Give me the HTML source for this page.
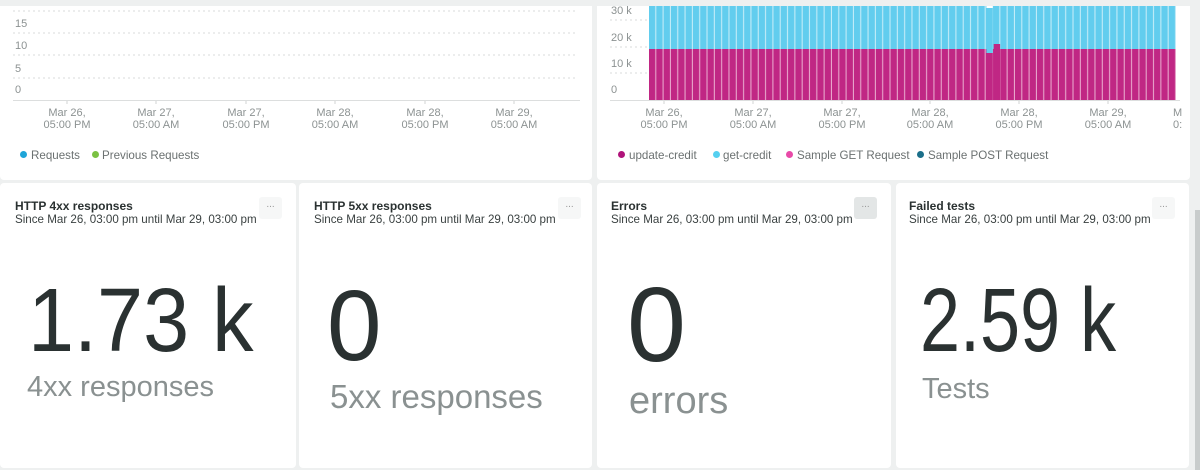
<!DOCTYPE html>
<html><head><meta charset="utf-8"><style>
*{margin:0;padding:0;box-sizing:border-box}
body{width:1200px;height:470px;background:#eef0f0;position:relative;overflow:hidden;font-family:"Liberation Sans",sans-serif}
.p{position:absolute;background:#fff;border-radius:4px}
.a{position:absolute;white-space:nowrap}
.yl{font-size:11px;color:#8c9292}
.xl{font-size:11px;color:#8c9292;text-align:center;line-height:12px;width:80px}
.lg{font-size:11.6px;color:#6b7171}
.dot{position:absolute;width:7px;height:7px;border-radius:50%}
.t{font-size:12px;font-weight:bold;color:#2a3131}
.s{font-size:11.6px;color:#3a4141}
.btn{position:absolute;width:23px;height:22px;border-radius:3px;background:#f6f7f7;color:#999;font-size:10px;text-align:center;line-height:16px}
.big{font-size:90px;line-height:1;color:#2a3131;transform:scaleX(.92);transform-origin:left top}
.sub{font-size:29px;line-height:1;color:#8a9191}
</style></head><body>
<div class="p" style="left:0;top:6px;width:592px;height:174px;border-radius:0 0 4px 4px"></div>
<div class="p" style="left:597px;top:6px;width:593px;height:174px;border-radius:0 0 4px 4px"></div>
<div class="p" style="left:0;top:183px;width:296px;height:285px"></div>
<div class="p" style="left:299px;top:183px;width:293px;height:285px"></div>
<div class="p" style="left:597px;top:183px;width:294px;height:285px"></div>
<div class="p" style="left:896px;top:183px;width:293px;height:285px"></div>
<div style="position:absolute;left:1195px;top:210px;width:5px;height:260px;background:#c8cccc"></div>

<svg style="position:absolute;left:0;top:0" width="1200" height="180">
<defs>
<pattern id="pm" x="649" y="0" width="7.32" height="200" patternUnits="userSpaceOnUse"><rect x="0" y="0" width="6.3" height="200" fill="#c02784"/><rect x="6.3" width="1.02" height="200" fill="#e8a7cc"/></pattern>
<pattern id="pc" x="649" y="0" width="7.32" height="200" patternUnits="userSpaceOnUse"><rect x="0" y="0" width="6.3" height="200" fill="#62cdee"/><rect x="6.3" width="1.02" height="200" fill="#c4ecf8"/></pattern>
</defs>
<g stroke="#d8dbdb" stroke-dasharray="2,3">
<line x1="13" x2="578" y1="11" y2="11"/><line x1="13" x2="578" y1="33" y2="33"/><line x1="13" x2="578" y1="55" y2="55"/><line x1="13" x2="578" y1="78" y2="78"/>
<line x1="610" x2="650" y1="20" y2="20"/><line x1="610" x2="650" y1="47" y2="47"/><line x1="610" x2="650" y1="73" y2="73"/>
</g>
<line x1="13" x2="580" y1="100.5" y2="100.5" stroke="#dcdede"/>
<line x1="610" x2="1180" y1="100.5" y2="100.5" stroke="#dcdede"/>
<rect x="649" y="6" width="527" height="43" fill="url(#pc)"/>
<rect x="649" y="49" width="527" height="51" fill="url(#pm)"/>
<rect x="986.4" y="6" width="6.4" height="47" fill="#62cdee"/>
<rect x="986.4" y="6" width="6.4" height="2" fill="#fff"/>
<rect x="986.4" y="53" width="6.4" height="47" fill="#c02784"/>
<rect x="993.7" y="44" width="6.4" height="56" fill="#c02784"/>
<g stroke="#d0d3d3"><line x1="67" x2="67" y1="101" y2="104"/><line x1="156" x2="156" y1="101" y2="104"/><line x1="246" x2="246" y1="101" y2="104"/><line x1="335" x2="335" y1="101" y2="104"/><line x1="425" x2="425" y1="101" y2="104"/><line x1="514" x2="514" y1="101" y2="104"/>
<line x1="664" x2="664" y1="101" y2="104"/><line x1="753" x2="753" y1="101" y2="104"/><line x1="842" x2="842" y1="101" y2="104"/><line x1="930" x2="930" y1="101" y2="104"/><line x1="1019" x2="1019" y1="101" y2="104"/><line x1="1108" x2="1108" y1="101" y2="104"/></g>
</svg>
<div style="position:absolute;left:0;top:0;width:1200px;height:6px;background:#eef0f0"></div>

<div class="a yl" style="left:15px;top:18px">15</div>
<div class="a yl" style="left:15px;top:40px">10</div>
<div class="a yl" style="left:15px;top:63px">5</div>
<div class="a yl" style="left:15px;top:84px">0</div>
<div class="a yl" style="left:611px;top:5px">30 k</div>
<div class="a yl" style="left:611px;top:32px">20 k</div>
<div class="a yl" style="left:611px;top:58px">10 k</div>
<div class="a yl" style="left:611px;top:84px">0</div>

<div class="a xl" style="left:27px;top:107px">Mar 26,<br>05:00 PM</div>
<div class="a xl" style="left:116px;top:107px">Mar 27,<br>05:00 AM</div>
<div class="a xl" style="left:206px;top:107px">Mar 27,<br>05:00 PM</div>
<div class="a xl" style="left:295px;top:107px">Mar 28,<br>05:00 AM</div>
<div class="a xl" style="left:385px;top:107px">Mar 28,<br>05:00 PM</div>
<div class="a xl" style="left:474px;top:107px">Mar 29,<br>05:00 AM</div>
<div class="a xl" style="left:624px;top:107px">Mar 26,<br>05:00 PM</div>
<div class="a xl" style="left:713px;top:107px">Mar 27,<br>05:00 AM</div>
<div class="a xl" style="left:802px;top:107px">Mar 27,<br>05:00 PM</div>
<div class="a xl" style="left:890px;top:107px">Mar 28,<br>05:00 AM</div>
<div class="a xl" style="left:979px;top:107px">Mar 28,<br>05:00 PM</div>
<div class="a xl" style="left:1068px;top:107px">Mar 29,<br>05:00 AM</div>
<div class="a xl" style="left:1173px;top:107px;width:10px;text-align:left;overflow:hidden">M<br>0:</div>

<div class="dot" style="left:20px;top:151px;background:#1fa5d8"></div><div class="a lg" style="left:31px;top:149px">Requests</div>
<div class="dot" style="left:92px;top:151px;background:#7bc143"></div><div class="a lg" style="left:102px;top:149px">Previous Requests</div>
<div class="dot" style="left:618px;top:151px;background:#b0137a"></div><div class="a lg" style="left:629px;top:149px">update-credit</div>
<div class="dot" style="left:713px;top:151px;background:#55d0f0"></div><div class="a lg" style="left:723px;top:149px">get-credit</div>
<div class="dot" style="left:786px;top:151px;background:#e84aa8"></div><div class="a lg" style="left:797px;top:149px">Sample GET Request</div>
<div class="dot" style="left:917px;top:151px;background:#1b6f8a"></div><div class="a lg" style="left:928px;top:149px">Sample POST Request</div>

<div class="a t" style="left:15px;top:199px">HTTP 4xx responses</div>
<div class="a s" style="left:15px;top:213px">Since Mar 26, 03:00 pm until Mar 29, 03:00 pm</div>
<div class="btn" style="left:259px;top:197px">...</div>
<div class="a t" style="left:314px;top:199px">HTTP 5xx responses</div>
<div class="a s" style="left:314px;top:213px">Since Mar 26, 03:00 pm until Mar 29, 03:00 pm</div>
<div class="btn" style="left:558px;top:197px">...</div>
<div class="a t" style="left:611px;top:199px">Errors</div>
<div class="a s" style="left:611px;top:213px">Since Mar 26, 03:00 pm until Mar 29, 03:00 pm</div>
<div class="btn" style="left:854px;top:197px;background:#e3e6e6">...</div>
<div class="a t" style="left:909px;top:199px">Failed tests</div>
<div class="a s" style="left:909px;top:213px">Since Mar 26, 03:00 pm until Mar 29, 03:00 pm</div>
<div class="btn" style="left:1152px;top:197px">...</div>

<div class="a big" style="left:28px;top:276px">1.73 k</div>
<div class="a sub" style="left:27px;top:373px">4xx responses</div>
<div class="a big" style="left:327px;top:276px;font-size:100px;transform:scaleX(.98)">0</div>
<div class="a sub" style="left:330px;top:380px;font-size:33px">5xx responses</div>
<div class="a big" style="left:627px;top:272px;font-size:106px;transform:scaleX(1)">0</div>
<div class="a sub" style="left:629px;top:382px;font-size:38px">errors</div>
<div class="a big" style="left:920px;top:276px;transform:scaleX(.8)">2.59 k</div>
<div class="a sub" style="left:922px;top:375px">Tests</div>
</body></html>
